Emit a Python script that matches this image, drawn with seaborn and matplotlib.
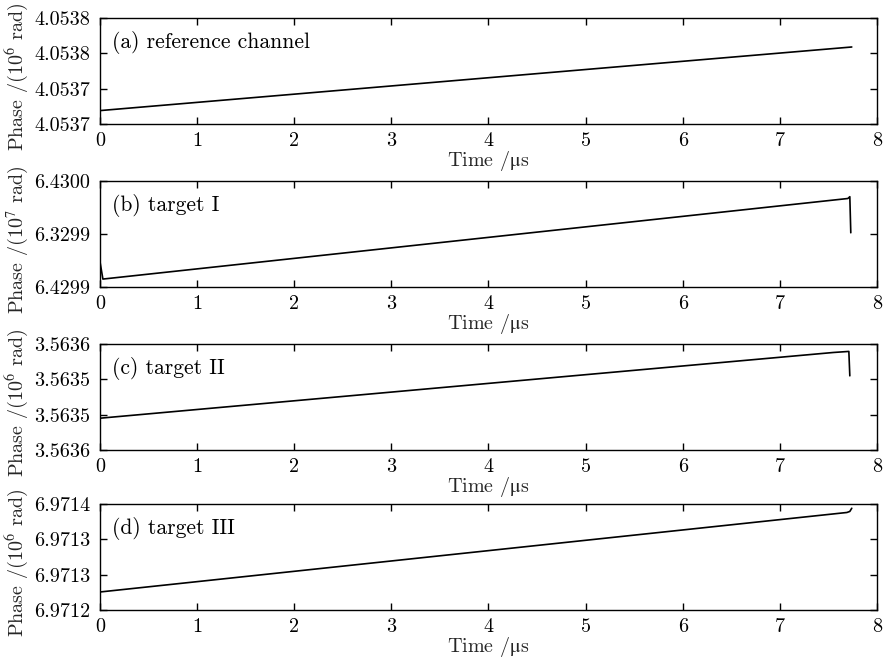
import matplotlib
matplotlib.use("Agg")
import matplotlib.pyplot as plt
import seaborn as sns
import pandas as pd

# ---- data (phase in the unit given on each y label, time in microseconds) ----
time_a = [0.0, 7.74]
phase_a = [4.053699, 4.053789]

time_b = [0.0, 0.03, 7.70, 7.72, 7.73]
phase_b = [6.4299239, 6.4299075, 6.4299835, 6.4299852, 6.4299512]

time_c = [0.0, 7.55, 7.71, 7.72]
phase_c = [3.563530, 3.563592, 3.563593, 3.563570]

time_d = [0.0, 7.69, 7.72, 7.74]
phase_d = [6.971217, 6.971292, 6.971293, 6.971296]

ylim_a = (4.05368, 4.05383)
yticks_a = [4.05368, 4.05373, 4.05378, 4.05383]
yticklabels_a = ["4.0537", "4.0537", "4.0538", "4.0538"]

ylim_b = (6.42990, 6.43000)
yticks_b = [6.42990, 6.42995, 6.43000]
yticklabels_b = ["6.4299", "6.3299", "6.4300"]

ylim_c = (3.56350, 3.56360)
yticks_c = [3.56350, 3.563533, 3.563567, 3.56360]
yticklabels_c = ["3.5636", "3.5635", "3.5635", "3.5636"]

ylim_d = (6.97120, 6.97130)
yticks_d = [6.97120, 6.971233, 6.971267, 6.97130]
yticklabels_d = ["6.9712", "6.9713", "6.9713", "6.9714"]

panel_titles = ["(a) reference channel", "(b) target I", "(c) target II", "(d) target III"]
ylabels = ["Phase /(10$^{6}$ rad)", "Phase /(10$^{7}$ rad)",
           "Phase /(10$^{6}$ rad)", "Phase /(10$^{6}$ rad)"]
xticks = [0, 1, 2, 3, 4, 5, 6, 7, 8]
xlabel = r"Time /$\mathrm{\mu}$s"

sns.set_theme(style="ticks")
plt.rcParams["font.family"] = ["cmr10", "DejaVu Serif"]
plt.rcParams["mathtext.fontset"] = "stix"
plt.rcParams["axes.unicode_minus"] = False
plt.rcParams["axes.formatter.use_mathtext"] = True

fig = plt.figure(figsize=(8.84, 6.65), dpi=100)

panels = [
    (time_a, phase_a, ylim_a, yticks_a, yticklabels_a),
    (time_b, phase_b, ylim_b, yticks_b, yticklabels_b),
    (time_c, phase_c, ylim_c, yticks_c, yticklabels_c),
    (time_d, phase_d, ylim_d, yticks_d, yticklabels_d),
]
bottoms = [0.8135, 0.5684, 0.3233, 0.0827]
left, width, height = 0.1131, 0.879, 0.1594
fs = 14.5

for i, (t, p, ylim, yt, ytl) in enumerate(panels):
    ax = fig.add_axes([left, bottoms[i], width, height])
    df = pd.DataFrame({"t": t, "p": p})
    sns.lineplot(data=df, x="t", y="p", ax=ax, color="black", linewidth=1.2,
                 sort=False, estimator=None)
    ax.set_xlim(0, 8)
    ax.set_ylim(*ylim)
    ax.set_xticks(xticks)
    ax.set_xticklabels([str(v) for v in xticks], fontsize=fs)
    ax.set_yticks(yt)
    ax.set_yticklabels(ytl, fontsize=fs)
    ax.tick_params(direction="in", top=True, right=True, length=5, width=1,
                   colors="black")
    ax.tick_params(axis="x", pad=6)
    ax.tick_params(axis="y", pad=7)
    for s in ax.spines.values():
        s.set_color("black")
        s.set_linewidth(1.0)
    ax.set_xlabel(xlabel, fontsize=fs, labelpad=-1)
    ax.set_ylabel(ylabels[i], fontsize=fs)
    ax.yaxis.set_label_coords(-0.089, 0.45)
    ax.text(0.016, 0.77, panel_titles[i], transform=ax.transAxes,
            fontsize=15.5, va="center", ha="left", color="black")

fig.savefig("out.png", dpi=100, facecolor="white")
